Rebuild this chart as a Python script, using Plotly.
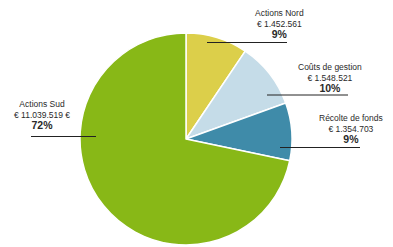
import plotly.graph_objects as go

W, H = 393, 247

categories = ["Actions Nord", "Coûts de gestion", "Récolte de fonds", "Actions Sud"]
values = [1452561, 1548521, 1354703, 11039519]
value_labels = ["€ 1.452.561", "€ 1.548.521", "€ 1.354.703", "€ 11.039.519 €"]
pct_labels = ["9%", "10%", "9%", "72%"]
colors = ["#dccf4a", "#c5dce8", "#3f8ba9", "#88b817"]

FONT = "Liberation Sans Narrow, Arial Narrow, Liberation Sans, Arial, sans-serif"

def px(x, y):
    return x / W, 1 - y / H

cx, cy, r = 186, 139, 106
x0, y1 = px(cx - r, cy + r)
x1, y0 = px(cx + r, cy - r)

fig = go.Figure(go.Pie(
    labels=categories,
    values=values,
    marker=dict(colors=colors, line=dict(color="white", width=1.5)),
    sort=False,
    direction="clockwise",
    rotation=0,
    textinfo="none",
    hoverinfo="label+value+percent",
    domain=dict(x=[x0, x1], y=[y1, y0]),
    showlegend=False,
))

# label positions (center x, middle y) and leader lines (pixels)
label_pos = [(279, 24), (330, 78), (351, 129), (42, 115)]
leaders = [((207, 42.5), (287, 42.5)), ((267, 95), (348, 95)),
           ((280, 147.5), (360, 147.5)), ((31, 136.5), (96, 136.5))]

annotations = []
for cat, vl, pl, (lx, ly) in zip(categories, value_labels, pct_labels, label_pos):
    ax, ay = px(lx, ly)
    annotations.append(dict(
        x=ax, y=ay, xref="paper", yref="paper", xanchor="center", yanchor="middle",
        showarrow=False, align="center",
        text=f"{cat}<br>{vl}<br><b><span style='font-size:10.5px'>{pl}</span></b>",
        font=dict(family=FONT, size=8.5, color="#2a2a2a"),
    ))

shapes = []
for (p, q) in leaders:
    sx0, sy0 = px(*p)
    sx1, sy1 = px(*q)
    shapes.append(dict(type="line", xref="paper", yref="paper",
                       x0=sx0, y0=sy0, x1=sx1, y1=sy1,
                       line=dict(color="#222222", width=1)))

fig.update_layout(
    width=W, height=H,
    margin=dict(l=0, r=0, t=0, b=0),
    paper_bgcolor="white", plot_bgcolor="white",
    annotations=annotations, shapes=shapes,
)

fig.write_html("out.html", config={"displayModeBar": False},
               post_script="document.body.style.margin='0px';")
